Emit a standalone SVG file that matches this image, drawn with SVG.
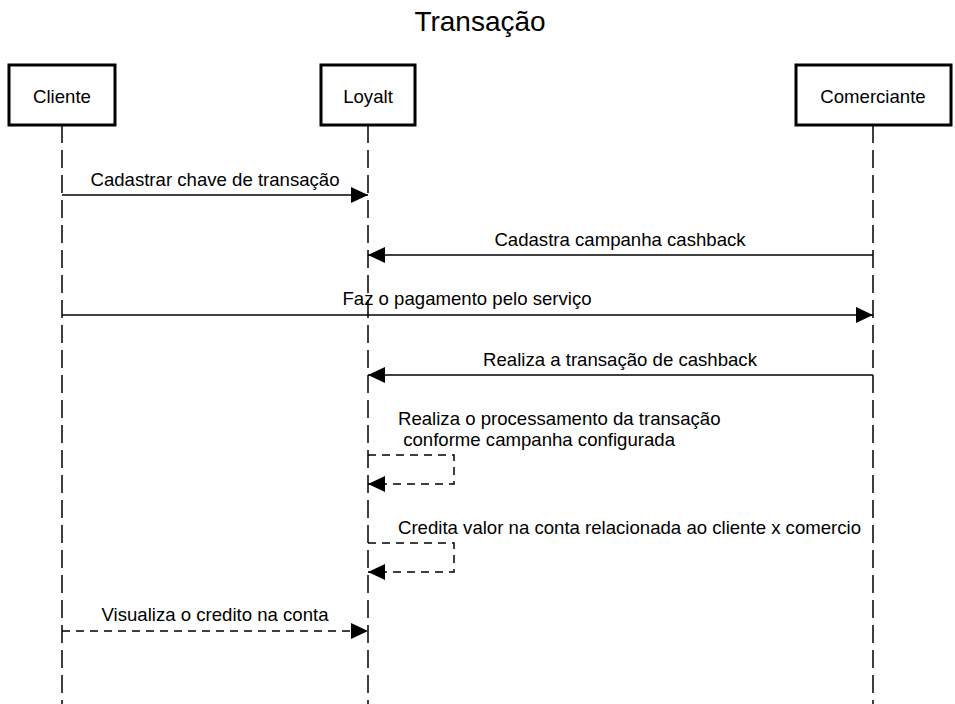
<svg xmlns="http://www.w3.org/2000/svg" width="955" height="704" viewBox="0 0 955 704">
<style>
text{font-family:"Liberation Sans",Arial,sans-serif;font-size:18.6px;fill:#000}
.box{fill:#fff;stroke:#000;stroke-width:3}
.life{stroke:#000;stroke-width:1.5;stroke-dasharray:18 7;fill:none}
.msg{stroke:#000;stroke-width:1.5;fill:none}
.dash{stroke-dasharray:8 6}
.c{text-anchor:middle}
</style>
<defs>
<marker id="ah" viewBox="0 0 17 16" refX="17" refY="8" markerWidth="17" markerHeight="16" markerUnits="userSpaceOnUse" orient="auto">
<path d="M0,0 L17,8 L0,16 Z" fill="#000"/>
</marker>
</defs>
<rect width="955" height="704" fill="#fff"/>
<text x="480" y="31" class="c" style="font-size:28px">Transação</text>
<g id="lifelines">
<line class="life" x1="62" y1="125" x2="62" y2="704"/>
<line class="life" x1="368" y1="125" x2="368" y2="704"/>
<line class="life" x1="873" y1="125" x2="873" y2="704"/>
</g>
<g id="cliente"><rect class="box" x="9" y="65" width="106" height="60"/><text x="62" y="103" class="c">Cliente</text></g>
<g id="loyalt"><rect class="box" x="321" y="65" width="94" height="60"/><text x="368" y="103" class="c">Loyalt</text></g>
<g id="comerciante"><rect class="box" x="796" y="65" width="155" height="60"/><text x="873" y="103" class="c">Comerciante</text></g>
<g id="connectors">
<line class="msg" x1="62" y1="195" x2="368" y2="195" marker-end="url(#ah)"/>
<text x="215" y="186" class="c">Cadastrar chave de transação</text>
<line class="msg" x1="873" y1="255" x2="368" y2="255" marker-end="url(#ah)"/>
<text x="620" y="246" class="c">Cadastra campanha cashback</text>
<line class="msg" x1="62" y1="315" x2="873" y2="315" marker-end="url(#ah)"/>
<text x="467" y="305" class="c">Faz o pagamento pelo serviço</text>
<line class="msg" x1="873" y1="375" x2="368" y2="375" marker-end="url(#ah)"/>
<text x="620" y="366" class="c">Realiza a transação de cashback</text>
<path class="msg dash" d="M368,455 H454 V484 H368" marker-end="url(#ah)"/>
<text x="398" y="425">Realiza o processamento da transação</text>
<text x="398" y="446" xml:space="preserve"> conforme campanha configurada</text>
<path class="msg dash" d="M368,543 H454 V572 H368" marker-end="url(#ah)"/>
<text x="398" y="534">Credita valor na conta relacionada ao cliente x comercio</text>
<line class="msg dash" x1="62" y1="631" x2="368" y2="631" marker-end="url(#ah)"/>
<text x="215" y="621" class="c">Visualiza o credito na conta</text>
</g>
</svg>
